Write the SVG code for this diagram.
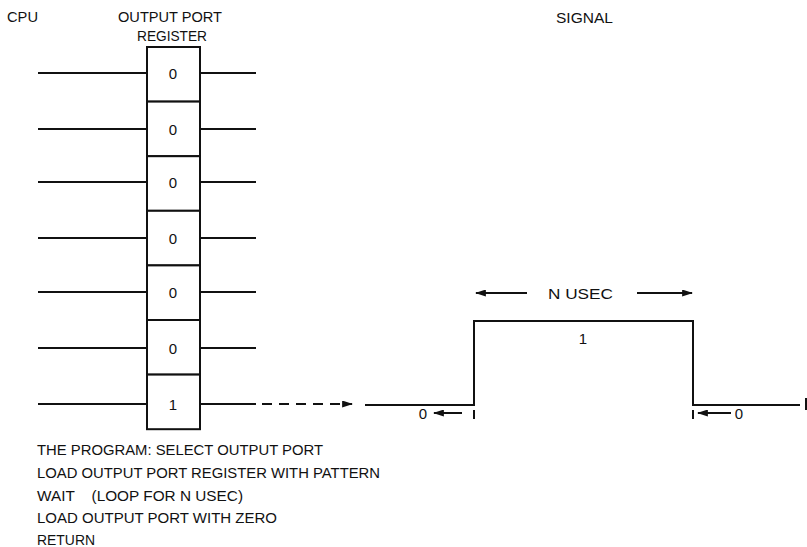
<svg xmlns="http://www.w3.org/2000/svg" width="807" height="547" viewBox="0 0 807 547">
<defs>
<style>
.t{font-family:"Liberation Sans",Arial,sans-serif;font-size:15px;fill:#111}
.ln{stroke:#111;stroke-width:2;fill:none}
.cell{stroke:#111;stroke-width:2;fill:#fff}
</style>
<marker id="ah" viewBox="0 0 10 10" refX="9" refY="5" markerWidth="11" markerHeight="7" markerUnits="userSpaceOnUse" orient="auto" preserveAspectRatio="none">
<path d="M0,0 L10,5 L0,10 z" fill="#111"/>
</marker>
</defs>
<rect width="807" height="547" fill="#fff"/>
<text class="t" x="7" y="22" textLength="31" lengthAdjust="spacingAndGlyphs">CPU</text>
<text class="t" x="118" y="22" textLength="104" lengthAdjust="spacingAndGlyphs">OUTPUT PORT</text>
<text class="t" x="137" y="41" textLength="70" lengthAdjust="spacingAndGlyphs">REGISTER</text>
<text class="t" x="556" y="23" textLength="57" lengthAdjust="spacingAndGlyphs">SIGNAL</text>
<g id="register">
<g id="cell1"><rect class="cell" x="147" y="47" width="53" height="54.6"/><text class="t" x="173" y="79" text-anchor="middle">0</text></g>
<g id="cell2"><rect class="cell" x="147" y="101.6" width="53" height="54.6"/><text class="t" x="173" y="135" text-anchor="middle">0</text></g>
<g id="cell3"><rect class="cell" x="147" y="156.2" width="53" height="54.6"/><text class="t" x="173" y="188" text-anchor="middle">0</text></g>
<g id="cell4"><rect class="cell" x="147" y="210.8" width="53" height="54.6"/><text class="t" x="173" y="244" text-anchor="middle">0</text></g>
<g id="cell5"><rect class="cell" x="147" y="265.4" width="53" height="54.6"/><text class="t" x="173" y="298" text-anchor="middle">0</text></g>
<g id="cell6"><rect class="cell" x="147" y="320" width="53" height="54.6"/><text class="t" x="173" y="354" text-anchor="middle">0</text></g>
<g id="cell7"><rect class="cell" x="147" y="374.6" width="53" height="54.6"/><text class="t" x="173" y="410" text-anchor="middle">1</text></g>
</g>
<g id="connectors">
<path class="ln" d="M38,73H147M38,129H147M38,182H147M38,238H147M38,292H147M38,348H147M38,404H147"/>
<path class="ln" d="M200,73H256M200,129H256M200,182H256M200,238H256M200,292H256M200,348H256M200,404H256"/>
<path class="ln" d="M262,404H352" stroke-dasharray="10,7" marker-end="url(#ah)"/>
<path class="ln" d="M365,405H474V321H693V405H800"/>
<path class="ln" d="M806,398V410"/>
</g>
<g id="signal-labels">
<text class="t" x="548" y="299" textLength="65" lengthAdjust="spacingAndGlyphs">N USEC</text>
<path class="ln" d="M527,293H476" marker-end="url(#ah)"/>
<path class="ln" d="M637,293H692" marker-end="url(#ah)"/>
<text class="t" x="583" y="344" text-anchor="middle">1</text>
<text class="t" x="423" y="419" text-anchor="middle">0</text>
<path class="ln" d="M462,413H434" marker-end="url(#ah)"/>
<path class="ln" d="M474,410V419"/>
<path class="ln" d="M693,410V419"/>
<path class="ln" d="M731,413H698" marker-end="url(#ah)"/>
<text class="t" x="739" y="419" text-anchor="middle">0</text>
</g>
<g id="program">
<text class="t" x="37" y="455" textLength="286" lengthAdjust="spacingAndGlyphs">THE PROGRAM: SELECT OUTPUT PORT</text>
<text class="t" x="37" y="478" textLength="343" lengthAdjust="spacingAndGlyphs">LOAD OUTPUT PORT REGISTER WITH PATTERN</text>
<text class="t" x="37" y="501" textLength="206" lengthAdjust="spacingAndGlyphs" xml:space="preserve">WAIT    (LOOP FOR N USEC)</text>
<text class="t" x="37" y="523" textLength="240" lengthAdjust="spacingAndGlyphs">LOAD OUTPUT PORT WITH ZERO</text>
<text class="t" x="37" y="545" textLength="58" lengthAdjust="spacingAndGlyphs">RETURN</text>
</g>
</svg>
